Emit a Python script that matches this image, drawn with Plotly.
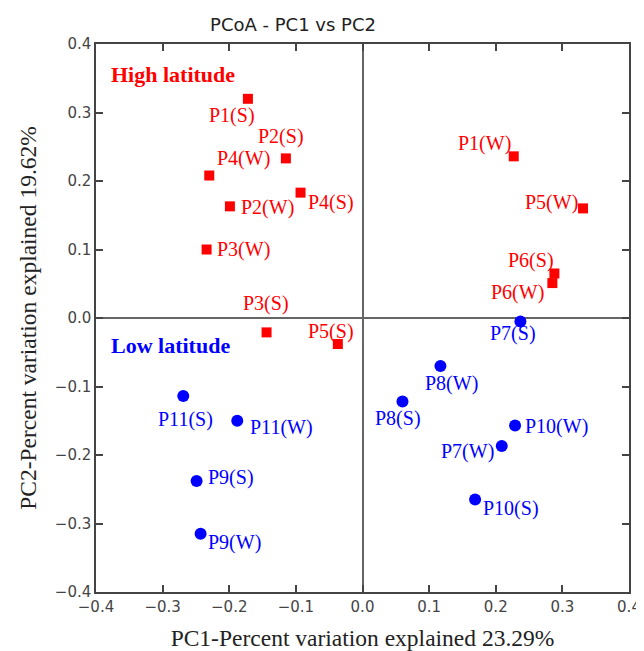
import plotly.graph_objects as go

# High latitude samples (red squares)
high_labels = ["P1(S)", "P2(S)", "P4(W)", "P2(W)", "P4(S)", "P3(W)", "P3(S)", "P5(S)",
               "P1(W)", "P5(W)", "P6(S)", "P6(W)"]
high_pc1 = [-0.172, -0.115, -0.230, -0.199, -0.093, -0.234, -0.144, -0.037,
            0.227, 0.331, 0.288, 0.285]
high_pc2 = [0.320, 0.233, 0.208, 0.163, 0.183, 0.100, -0.021, -0.038,
            0.236, 0.160, 0.065, 0.051]

# Low latitude samples (blue circles)
low_labels = ["P7(S)", "P8(W)", "P8(S)", "P10(W)", "P7(W)", "P10(S)",
              "P11(S)", "P11(W)", "P9(S)", "P9(W)"]
low_pc1 = [0.237, 0.117, 0.060, 0.229, 0.209, 0.169,
           -0.269, -0.188, -0.249, -0.243]
low_pc2 = [-0.005, -0.070, -0.122, -0.157, -0.187, -0.265,
           -0.114, -0.150, -0.238, -0.315]

x_ticks = [-0.4, -0.3, -0.2, -0.1, 0.0, 0.1, 0.2, 0.3, 0.4]
y_ticks = [-0.4, -0.3, -0.2, -0.1, 0.0, 0.1, 0.2, 0.3, 0.4]

# label pixel offsets (dx right, dy down) - style only
high_off = [(-16, 17), (-5, -22), (34, -17), (38, 1), (30, 10), (37, 0), (-1, -29), (-7, -13),
            (-29, -13), (-32, -6), (-23, -13), (-35, 9)]
low_off = [(-7, 12), (11, 18), (-4, 17), (41, 1), (-34, 5), (36, 9),
           (2, 23), (44, 7), (34, -4), (34, 9)]

RED = "#FF0000"
BLUE = "#0000FF"
SERIF = "Liberation Serif, Times New Roman, serif"
SANS = "DejaVu Sans, sans-serif"

# page body has an 8px margin, so the figure is 8px smaller than the window
W, H = 636, 643
ML, MR, MT, MB = 88, 15, 36, 59

fig = go.Figure()
fig.add_trace(go.Scatter(x=high_pc1, y=high_pc2, mode="markers",
                         marker=dict(symbol="square", size=10, color=RED, line=dict(width=0)),
                         showlegend=False, hoverinfo="text", text=high_labels))
fig.add_trace(go.Scatter(x=low_pc1, y=low_pc2, mode="markers",
                         marker=dict(symbol="circle", size=12, color=BLUE, line=dict(width=0)),
                         showlegend=False, hoverinfo="text", text=low_labels))

for lab, x, y, (dx, dy) in zip(high_labels, high_pc1, high_pc2, high_off):
    fig.add_annotation(x=x, y=y, text=lab, showarrow=False, xshift=dx, yshift=-dy,
                       font=dict(family=SERIF, size=20, color=RED))
for lab, x, y, (dx, dy) in zip(low_labels, low_pc1, low_pc2, low_off):
    fig.add_annotation(x=x, y=y, text=lab, showarrow=False, xshift=dx, yshift=-dy,
                       font=dict(family=SERIF, size=20, color=BLUE))

fig.add_annotation(xref="paper", yref="paper", x=0.024, y=0.945, xanchor="left", yanchor="middle",
                   text="<b>High latitude</b>", showarrow=False,
                   font=dict(family=SERIF, size=22, color=RED))
fig.add_annotation(xref="paper", yref="paper", x=0.024, y=0.449, xanchor="left", yanchor="middle",
                   text="<b>Low latitude</b>", showarrow=False,
                   font=dict(family=SERIF, size=22, color=BLUE))

axis_common = dict(
    showgrid=False, zeroline=True, zerolinecolor="#666666", zerolinewidth=1.5,
    showline=True, linecolor="#444444", linewidth=1.5, mirror="ticks",
    ticks="inside", ticklen=7, tickwidth=1.5, tickcolor="#444444",
    tickfont=dict(family=SANS, size=15, color="#444444"),
    tickformat=".1f", range=[-0.4, 0.4], automargin=False,
)

fig.update_layout(
    width=W, height=H,
    margin=dict(l=ML, r=MR, t=MT, b=MB),
    paper_bgcolor="white", plot_bgcolor="white",
    title=dict(text="PCoA - PC1 vs PC2", x=(285 - ML) / (W - ML - MR), xanchor="center",
               y=1 - 17 / H, yanchor="middle",
               xref="paper", yref="container", automargin=False,
               font=dict(family=SANS, size=18, color="#222222")),
    xaxis=dict(axis_common, tickvals=x_ticks,
               title=dict(text="PC1-Percent variation explained 23.29%", standoff=16,
                          font=dict(family=SERIF, size=23.5, color="#222222"))),
    yaxis=dict(axis_common, tickvals=y_ticks,
               title=dict(text="PC2-Percent variation explained 19.62%", standoff=12,
                          font=dict(family=SERIF, size=23.5, color="#222222"))),
)

fig.write_html("out.html")
